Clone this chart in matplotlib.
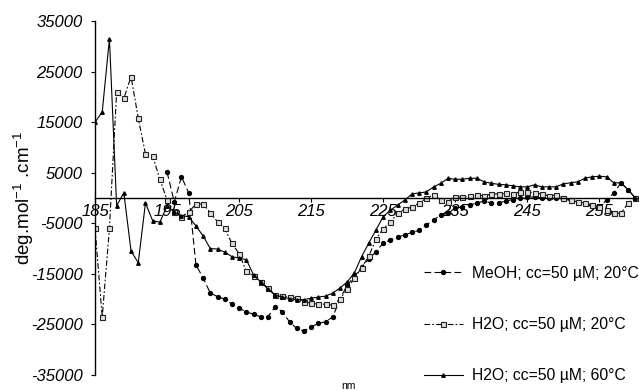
import matplotlib
matplotlib.use('Agg')
import matplotlib.pyplot as plt
import numpy as np

plt.rcParams['font.family'] = ['Liberation Sans', 'DejaVu Sans']
plt.rcParams['mathtext.default'] = 'regular'

# wavelengths (nm)
nm_all = list(range(185, 261))
nm_meoh = list(range(195, 261))

# MeOH; cc=50 uM; 20 C
meoh_20 = [5100, -800, 4200, 1000, -13200, -15800, -18800, -19500, -20000, -21000,
           -21800, -22500, -23000, -23500, -23500, -21500, -22500, -24500, -25800, -26300,
           -25500, -24800, -24500, -23500, -20000, -17200, -15600, -13600, -12100, -10600,
           -8900, -8300, -7700, -7300, -6800, -6400, -5300, -4300, -3400, -3000,
           -2000, -1800, -1400, -1000, -600, -1000, -1000, -600, -300, 0,
           200, 200, 0, 0, 0, -200, -500, -800, -1000, -1400,
           -1800, -400, 1000, 3000, 1600, 0]

# H2O; cc=50 uM; 20 C
h2o_20 = [-6000, -23500, -6000, 21000, 19700, 24000, 15800, 8700, 8300, 3700,
          -400, -2800, -3700, -2800, -1200, -1200, -2900, -4700, -6000, -9000,
          -11000, -14500, -15400, -16600, -17800, -19200, -19400, -19500, -19800, -20500,
          -20800, -21000, -21000, -21200, -20000, -18000, -15800, -13800, -11500, -8100,
          -6100, -4700, -3000, -2200, -1800, -1000, 0, 600, -400, -700,
          200, 200, 400, 600, 400, 800, 800, 900, 800, 1200,
          1200, 1000, 800, 400, 600, 0, -400, -800, -1000, -1400,
          -1800, -2400, -3000, -3000, -1000, 0]

# H2O; cc=50 uM; 60 C
h2o_60 = [15000, 17000, 31500, -1500, 1000, -10500, -12800, -1000, -4500, -4800,
          -1500, -2800, -3500, -3700, -5500, -7500, -10000, -10100, -10700, -11600,
          -11900, -12200, -15200, -16600, -18000, -19200, -19600, -19900, -20100, -20100,
          -19800, -19600, -19400, -18800, -17800, -16600, -14800, -11600, -8900, -6300,
          -3700, -2400, -1400, -400, 800, 1000, 1200, 2200, 2900, 3900,
          3700, 3700, 3900, 3900, 3200, 2900, 2700, 2600, 2400, 2200,
          2200, 2600, 2200, 2200, 2200, 2800, 3000, 3200, 3900, 4200,
          4300, 4200, 3000, 3000, 1600, 0]

labels = ['MeOH; cc=50 µM; 20°C', 'H2O; cc=50 µM; 20°C', 'H2O; cc=50 µM; 60°C']
xticks = [185, 195, 205, 215, 225, 235, 245, 255]
yticks = [35000, 25000, 15000, 5000, -5000, -15000, -25000, -35000]

fig = plt.figure(figsize=(6.39, 3.90), dpi=100)
ax = fig.add_axes([0.1487, 0.0385, 0.8513, 0.9077])

ax.plot(nm_meoh, meoh_20, color='black', lw=0.8, dashes=(6, 3),
        marker='o', ms=2.8, mfc='black', mec='black', label=labels[0])
ax.plot(nm_all, h2o_20, color='black', lw=0.8, dashes=(5, 2, 1.5, 2),
        marker='s', ms=3.6, mfc='#dddddd', mec='#222222', mew=0.8, label=labels[1])
ax.plot(nm_all, h2o_60, color='black', lw=0.8, linestyle='-',
        marker='^', ms=2.5, mfc='black', mec='black', label=labels[2])

ax.set_xlim(185, 260.5)
ax.set_ylim(-35000, 35000)

ax.spines['top'].set_visible(False)
ax.spines['right'].set_visible(False)
ax.spines['bottom'].set_position(('data', 0))
ax.spines['left'].set_linewidth(1.0)
ax.spines['bottom'].set_linewidth(1.0)

ax.set_xticks(xticks)
ax.set_yticks(yticks)
ax.set_xticklabels([str(t) for t in xticks], fontstyle='italic', fontsize=12)
ax.set_yticklabels([str(t) for t in yticks], fontstyle='italic', fontsize=12)
ax.tick_params(axis='x', direction='out', length=3, pad=1.5)
ax.tick_params(axis='y', direction='out', length=3, pad=6)

ax.set_ylabel('deg.mol$^{-1}$ .cm$^{-1}$', fontsize=13.5)
ax.yaxis.set_label_coords(-0.108, 0.5)
fig.text(348 / 639, 1 - 386 / 390, 'nm', fontsize=7.5, ha='center', va='center')

ax.legend(loc='upper left', bbox_to_anchor=(0.663, 0.318), bbox_transform=fig.transFigure,
          frameon=False, fontsize=11.3, handlelength=2.5, handletextpad=0.55,
          labelspacing=2.3, borderpad=0, borderaxespad=0)

fig.savefig('out.png', dpi=100)
